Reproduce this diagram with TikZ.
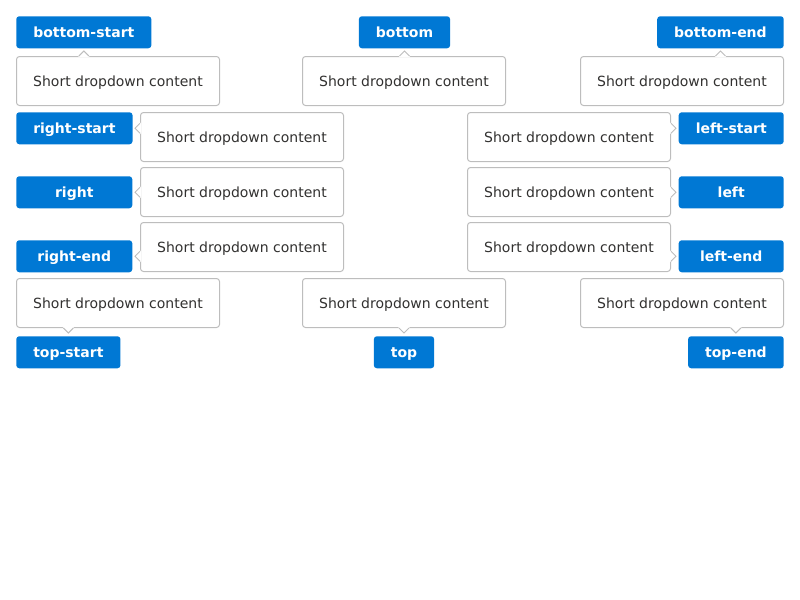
\documentclass[tikz,border=0pt]{standalone}
\usepackage{fontspec}
\setmainfont{DejaVu Sans}
\definecolor{btnblue}{HTML}{0078D4}
\definecolor{boxline}{HTML}{BDBDBD}
\definecolor{boxtext}{HTML}{323130}
\tikzset{
  btn/.style={fill=btnblue,text=white,font=\fontsize{10.5}{12}\selectfont\bfseries,
    rounded corners=2.25pt,minimum height=24pt,inner xsep=12.75pt,inner ysep=0pt,
    text height=7.5pt,text depth=0pt},
  menu/.style={draw=boxline,line width=0.75pt,fill=white,text=boxtext,
    font=\fontsize{10.5}{12}\selectfont,rounded corners=2.25pt,
    minimum width=152.25pt,minimum height=36.75pt,inner sep=0pt,
    text height=7.5pt,text depth=0pt,anchor=north west},
  caret/.pic={
    \fill[white] (-5.6,0.8)--(0,-5)--(5.6,0.8)--cycle;
    \draw[boxline,line width=0.75pt] (-5,0)--(0,-5)--(5,0);
  }
}
\begin{document}
\begin{tikzpicture}[x=0.75pt,y=-0.75pt]
        \useasboundingbox (0,0) rectangle (800,600);
        % buttons
        \node[btn,anchor=north west] (bs) at (16,16){bottom-start};
        \node[btn,anchor=north] (b) at (404.5,16){bottom};
        \node[btn,anchor=north east] (be) at (784,16){bottom-end};
        \node[btn,anchor=north west,minimum width=87pt] (rs) at (16,112){right-start};
        \node[btn,anchor=north west,minimum width=87pt] (r) at (16,176){right};
        \node[btn,anchor=north west,minimum width=87pt] (re) at (16,240){right-end};
        \node[btn,anchor=north east,minimum width=78.75pt] (ls) at (784,112){left-start};
        \node[btn,anchor=north east,minimum width=78.75pt] (l) at (784,176){left};
        \node[btn,anchor=north east,minimum width=78.75pt] (le) at (784,240){left-end};
        \node[btn,anchor=north west] (ts) at (16,336){top-start};
        \node[btn,anchor=north] (t) at (404,336){top};
        \node[btn,anchor=north east] (te) at (784,336){top-end};
        % dropdowns
        \node[menu] (bsm) at (16,56){Short dropdown content};
        \node[menu] (bm) at (302,56){Short dropdown content};
        \node[menu] (bem) at (580,56){Short dropdown content};
        \node[menu] (rsm) at (140,112){Short dropdown content};
        \node[menu] (rm) at (140,167){Short dropdown content};
        \node[menu] (rem) at (140,222){Short dropdown content};
        \node[menu] (lsm) at (467,112){Short dropdown content};
        \node[menu] (lm) at (467,167){Short dropdown content};
        \node[menu] (lem) at (467,222){Short dropdown content};
        \node[menu] (tsm) at (16,278){Short dropdown content};
        \node[menu] (tm) at (302,278){Short dropdown content};
        \node[menu] (tem) at (580,278){Short dropdown content};
        % carets
        \foreach \a/\m in {bs/bsm,b/bm,be/bem}
            \pic at (\a.south |- \m.north) {caret};
        \foreach \a/\m in {ts/tsm,t/tm,te/tem}
            \pic[rotate=180] at (\a.north |- \m.south) {caret};
        \foreach \a/\m in {rs/rsm,r/rm,re/rem}
            \pic[rotate=90] at (\m.west |- \a.east) {caret};
        \foreach \a/\m in {ls/lsm,l/lm,le/lem}
            \pic[rotate=-90] at (\m.east |- \a.west) {caret};
    \end{tikzpicture}
\end{document}
